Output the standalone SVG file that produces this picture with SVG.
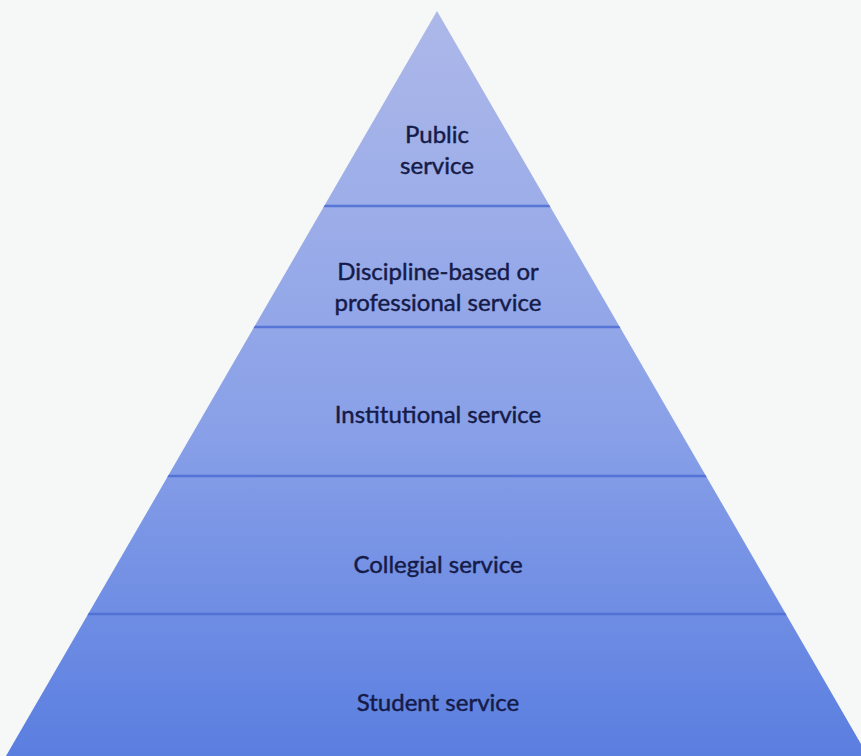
<svg xmlns="http://www.w3.org/2000/svg" width="861" height="756" viewBox="0 0 861 756">
  <defs>
    <linearGradient id="fade" gradientUnits="userSpaceOnUse" x1="0" y1="11" x2="0" y2="756">
      <stop offset="0" stop-color="#adb8e9"/>
      <stop offset="0.55" stop-color="#8aa1e8"/>
      <stop offset="1" stop-color="#5a7ee0"/>
    </linearGradient>
    <clipPath id="pyramid-clip">
      <polygon points="437,11 868,756 6,756"/>
    </clipPath>
    <style>
      .label { font-family: Lato, "Open Sans", "Liberation Sans", sans-serif; font-size: 24px; fill: #151b48; stroke: #151b48; stroke-width: 0.45; text-anchor: middle; }
      .divider { stroke: #4d6dd3; stroke-width: 2.5; opacity: 0.85; }
    </style>
  </defs>

  <!-- page -->
  <rect width="861" height="756" fill="#f6f7f7"/>

  <!-- pyramid body -->
  <polygon points="437,11 868,756 6,756" fill="url(#fade)"/>

  <!-- tier dividers -->
  <g id="dividers" clip-path="url(#pyramid-clip)">
    <line class="divider" x1="0" y1="206" x2="861" y2="206"/>
    <line class="divider" x1="0" y1="327" x2="861" y2="327"/>
    <line class="divider" x1="0" y1="476" x2="861" y2="476"/>
    <line class="divider" x1="0" y1="614" x2="861" y2="614"/>
  </g>

  <g id="public-service">
    <text class="label" x="437" y="143">Public</text>
    <text class="label" x="437" y="174">service</text>
  </g>

  <g id="discipline-service">
    <text class="label" x="438" y="280">Discipline-based or</text>
    <text class="label" x="438" y="311">professional service</text>
  </g>

  <g id="institutional-service">
    <text class="label" x="438" y="423">Institutional service</text>
  </g>

  <g id="collegial-service">
    <text class="label" x="438" y="573">Collegial service</text>
  </g>

  <g id="student-service">
    <text class="label" x="438" y="711">Student service</text>
  </g>
</svg>
